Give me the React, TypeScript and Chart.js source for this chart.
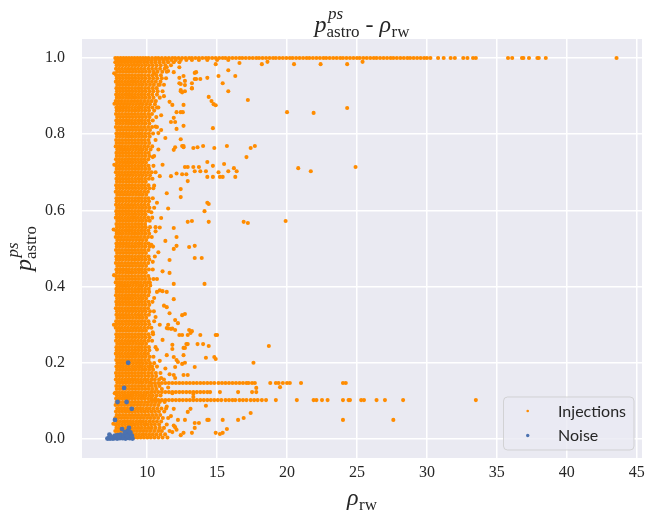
import { useEffect, useRef } from "react";
import { Chart, registerables } from "chart.js";
Chart.register(...registerables);

// ---------- axes ----------
const xTicks = [10, 15, 20, 25, 30, 35, 40, 45];
const yTicks = [0, 0.2, 0.4, 0.6, 0.8, 1.0];
const xRange = [5.34, 45.38];
const yRange = [-0.05, 1.05];

// ---------- Injections: row at p = 1.0 ----------
const topRowY = 1.0;
const topRowX = [7.72, 7.9, 8.1, 8.3, 8.5, 8.7, 8.9, 9.1, 9.3, 9.5, 9.7, 9.9, 10.1, 10.35, 10.6, 10.8, 11.05, 11.3, 11.55, 11.8, 12.0, 12.25, 12.5, 12.75, 13.0, 13.2, 13.45, 13.7, 13.95, 14.2, 14.4, 14.65, 14.9, 15.15, 15.4, 15.6, 15.85, 16.1, 16.35, 16.6, 16.8, 17.05, 17.3, 17.55, 17.8, 18.0, 18.25, 18.5, 18.75, 19.0, 19.2, 19.45, 19.7, 19.95, 20.2, 20.4, 20.65, 20.9, 21.15, 21.4, 21.6, 21.85, 22.1, 22.35, 22.6, 22.8, 23.05, 23.3, 23.55, 23.8, 24.0, 24.25, 24.5, 24.75, 25.0, 25.2, 25.45, 25.7, 25.95, 26.2, 26.4, 26.65, 26.9, 27.15, 27.4, 27.6, 27.85, 28.1, 28.35, 28.6, 28.8, 29.05, 29.3, 29.55, 29.8, 30.0, 30.25, 30.8, 31.2, 31.7, 32.0, 32.6, 32.9, 33.3, 33.5, 35.8, 36.1, 36.8, 36.9, 37.3, 37.9, 38.0, 38.5, 43.56];

// ---------- Injections: horizontal rows near 0.15 / 0.12 / 0.10 ----------
const rowY147 = 0.147;
const rowX147 = [10.3, 10.55, 10.8, 11.05, 11.3, 11.55, 11.8, 12.05, 12.3, 12.55, 12.8, 13.05, 13.3, 13.55, 13.8, 14.05, 14.3, 14.55, 14.8, 15.1, 15.35, 15.6, 15.85, 16.1, 16.35, 16.6, 16.85, 17.1, 17.25, 17.5, 17.7, 18.8, 19.2, 19.4, 19.7, 20.0, 20.2, 21.0, 24.0, 24.2];
const rowY123 = 0.123;
const rowX123 = [10.3, 10.55, 10.8, 11.05, 11.3, 11.55, 11.8, 12.05, 12.3, 12.55, 12.8, 13.05, 13.3, 13.55, 13.8, 14.05, 14.3, 14.5, 15.2, 16.5, 17.5, 17.8];
const rowY102 = 0.102;
const rowX102 = [10.3, 10.55, 10.8, 11.05, 11.3, 11.55, 11.8, 12.05, 12.3, 12.55, 12.8, 13.05, 13.3, 13.55, 13.8, 14.05, 14.3, 14.55, 14.8, 15.05, 15.3, 15.6, 15.85, 16.1, 16.3, 16.6, 16.85, 17.1, 17.4, 17.65, 17.9, 18.2, 18.5, 19.2, 20.7, 21.9, 22.1, 22.5, 22.9, 24.0, 24.4, 24.5, 25.3, 25.5, 26.4, 27.0, 28.3, 33.5];

// ---------- Injections: dense vertical band, rows of [p, rho, rho, ...] ----------
const bandRows: number[][] = [
  [0.004, 7.74, 7.96, 8.18, 8.41, 8.63, 8.86, 9.08, 9.31, 9.54, 9.77, 10.01, 10.26, 10.52, 10.8, 11.1, 11.45],
  [0.012, 7.83, 8.05, 8.28, 8.5, 8.73, 8.95, 9.19, 9.42, 9.66, 9.9, 10.14, 10.4, 10.66, 10.95, 11.28],
  [0.021, 7.72, 7.92, 8.14, 8.37, 8.59, 8.82, 9.04, 9.27, 9.5, 9.74, 9.98, 10.22, 10.5, 10.79, 11.05, 11.6],
  [0.029, 7.8, 8.02, 8.25, 8.47, 8.7, 8.92, 9.15, 9.38, 9.61, 9.85, 10.1, 10.33, 10.6, 10.9, 11.2],
  [0.038, 7.76, 7.97, 8.2, 8.42, 8.65, 8.88, 9.1, 9.33, 9.56, 9.8, 10.03, 10.28, 10.55, 10.85, 11.4],
  [0.046, 7.85, 8.07, 8.3, 8.52, 8.75, 8.97, 9.21, 9.44, 9.67, 9.91, 10.17, 10.42, 10.7, 11.0],
  [0.055, 7.73, 7.94, 8.16, 8.39, 8.61, 8.84, 9.06, 9.29, 9.52, 9.76, 10.0, 10.25, 10.5, 10.78, 11.12, 11.5],
  [0.063, 7.82, 8.04, 8.27, 8.49, 8.72, 8.94, 9.17, 9.4, 9.63, 9.87, 10.12, 10.38, 10.64, 10.93],
  [0.072, 7.77, 7.99, 8.21, 8.44, 8.66, 8.89, 9.11, 9.34, 9.57, 9.81, 10.05, 10.3, 10.56, 10.84, 11.22],
  [0.080, 7.86, 8.08, 8.31, 8.53, 8.76, 8.98, 9.22, 9.45, 9.68, 9.93, 10.18, 10.44, 10.72, 11.02, 11.35],
  [0.089, 7.74, 7.95, 8.17, 8.4, 8.62, 8.85, 9.07, 9.3, 9.53, 9.77, 10.01, 10.27, 10.53, 10.8],
  [0.097, 7.81, 8.03, 8.26, 8.48, 8.71, 8.93, 9.16, 9.39, 9.62, 9.86, 10.1, 10.35, 10.62, 10.9, 11.25],
  [0.106, 7.78, 8.0, 8.22, 8.45, 8.67, 8.9, 9.12, 9.35, 9.58, 9.82, 10.06, 10.31, 10.58],
  [0.114, 7.84, 8.06, 8.29, 8.51, 8.74, 8.96, 9.2, 9.43, 9.66, 9.9, 10.15, 10.4, 10.68, 10.96],
  [0.122, 7.75, 7.96, 8.19, 8.41, 8.64, 8.87, 9.09, 9.32, 9.55, 9.79, 10.03, 10.28],
  [0.131, 7.83, 8.05, 8.27, 8.5, 8.72, 8.95, 9.18, 9.41, 9.64, 9.88, 10.12, 10.38, 10.66, 11.05],
  [0.139, 7.79, 8.01, 8.23, 8.46, 8.68, 8.91, 9.13, 9.36, 9.59, 9.83, 10.08, 10.33, 10.6, 10.88],
  [0.148, 7.86, 8.08, 8.3, 8.53, 8.75, 8.98, 9.21, 9.44, 9.67, 9.92, 10.16],
  [0.156, 7.76, 7.98, 8.2, 8.43, 8.65, 8.88, 9.1, 9.33, 9.56, 9.8, 10.04, 10.3, 10.55, 10.85, 11.2],
  [0.165, 7.82, 8.04, 8.26, 8.49, 8.71, 8.94, 9.16, 9.39, 9.62, 9.86, 10.11, 10.36, 10.64],
  [0.173, 7.77, 7.99, 8.21, 8.44, 8.66, 8.89, 9.12, 9.35, 9.58, 9.82, 10.07, 10.33, 10.62, 10.95],
  [0.182, 7.85, 8.07, 8.29, 8.52, 8.74, 8.97, 9.19, 9.42, 9.65, 9.89, 10.14, 10.42],
  [0.190, 7.8, 8.02, 8.24, 8.47, 8.69, 8.92, 9.14, 9.37, 9.6, 9.84, 10.09, 10.35, 10.7],
  [0.199, 7.87, 8.09, 8.31, 8.54, 8.76, 8.99, 9.22, 9.45, 9.68, 9.93, 10.2, 10.5],
  [0.207, 7.79, 8.0, 8.22, 8.45, 8.67, 8.9, 9.13, 9.36, 9.59, 9.84, 10.1],
  [0.216, 7.84, 8.06, 8.28, 8.51, 8.73, 8.96, 9.19, 9.42, 9.65, 9.9, 10.18, 10.45],
  [0.224, 7.76, 7.97, 8.19, 8.42, 8.64, 8.87, 9.1, 9.33, 9.56, 9.8, 10.05],
  [0.233, 7.82, 8.04, 8.26, 8.49, 8.71, 8.94, 9.17, 9.4, 9.63, 9.88, 10.15],
  [0.241, 7.8, 8.01, 8.23, 8.46, 8.68, 8.91, 9.14, 9.37, 9.6, 9.85, 10.12, 10.6],
  [0.250, 7.86, 8.08, 8.3, 8.53, 8.75, 8.98, 9.21, 9.44, 9.67, 9.92],
  [0.258, 7.77, 7.98, 8.2, 8.43, 8.65, 8.88, 9.11, 9.34, 9.57, 9.82, 10.08, 10.35],
  [0.267, 7.83, 8.05, 8.27, 8.5, 8.72, 8.95, 9.18, 9.41, 9.64, 9.89, 10.16],
  [0.275, 7.79, 8.0, 8.22, 8.45, 8.67, 8.9, 9.13, 9.36, 9.59, 9.84, 10.1, 10.42],
  [0.284, 7.85, 8.07, 8.29, 8.52, 8.74, 8.97, 9.2, 9.43, 9.66, 9.91],
  [0.292, 7.75, 7.96, 8.18, 8.41, 8.63, 8.86, 9.09, 9.32, 9.55, 9.8, 10.06, 10.3],
  [0.301, 7.82, 8.04, 8.26, 8.49, 8.71, 8.94, 9.17, 9.4, 9.63, 9.87, 10.14],
  [0.309, 7.78, 7.99, 8.21, 8.44, 8.66, 8.89, 9.12, 9.35, 9.58, 9.83, 10.09, 10.5],
  [0.318, 7.86, 8.08, 8.3, 8.53, 8.75, 8.98, 9.21, 9.44, 9.67, 9.93],
  [0.326, 7.8, 8.01, 8.23, 8.46, 8.68, 8.91, 9.14, 9.37, 9.6, 9.85, 10.12],
  [0.335, 7.84, 8.06, 8.28, 8.51, 8.73, 8.96, 9.19, 9.42, 9.65, 9.9, 10.2, 10.48],
  [0.343, 7.76, 7.97, 8.19, 8.42, 8.64, 8.87, 9.1, 9.33, 9.56, 9.81, 10.06],
  [0.352, 7.83, 8.05, 8.27, 8.5, 8.72, 8.95, 9.18, 9.41, 9.64, 9.88, 10.15],
  [0.360, 7.79, 8.0, 8.22, 8.45, 8.67, 8.9, 9.13, 9.36, 9.59, 9.84, 10.1, 10.38],
  [0.369, 7.85, 8.07, 8.29, 8.52, 8.74, 8.97, 9.2, 9.43, 9.66, 9.92],
  [0.377, 7.77, 7.98, 8.2, 8.43, 8.65, 8.88, 9.11, 9.34, 9.57, 9.82, 10.08],
  [0.386, 7.82, 8.04, 8.26, 8.49, 8.71, 8.94, 9.17, 9.4, 9.63, 9.87, 10.14, 10.7],
  [0.394, 7.8, 8.01, 8.23, 8.46, 8.68, 8.91, 9.14, 9.37, 9.6, 9.85, 10.11],
  [0.403, 7.86, 8.08, 8.3, 8.53, 8.75, 8.98, 9.21, 9.44, 9.67, 9.93, 10.22],
  [0.411, 7.75, 7.96, 8.18, 8.41, 8.63, 8.86, 9.09, 9.32, 9.55, 9.8, 10.05],
  [0.420, 7.83, 8.05, 8.27, 8.5, 8.72, 8.95, 9.18, 9.41, 9.64, 9.89, 10.16, 10.45],
  [0.428, 7.78, 7.99, 8.21, 8.44, 8.66, 8.89, 9.12, 9.35, 9.58, 9.83, 10.08],
  [0.437, 7.84, 8.06, 8.28, 8.51, 8.73, 8.96, 9.19, 9.42, 9.65, 9.9],
  [0.445, 7.8, 8.01, 8.23, 8.46, 8.68, 8.91, 9.14, 9.37, 9.6, 9.85, 10.12, 10.4],
  [0.454, 7.86, 8.07, 8.29, 8.52, 8.74, 8.97, 9.2, 9.43, 9.66, 9.92],
  [0.462, 7.76, 7.97, 8.19, 8.42, 8.64, 8.87, 9.1, 9.33, 9.56, 9.81, 10.07],
  [0.471, 7.82, 8.04, 8.26, 8.49, 8.71, 8.94, 9.17, 9.4, 9.63, 9.88, 10.15],
  [0.479, 7.79, 8.0, 8.22, 8.45, 8.67, 8.9, 9.13, 9.36, 9.59, 9.84, 10.1, 10.55],
  [0.488, 7.85, 8.07, 8.29, 8.52, 8.74, 8.97, 9.2, 9.43, 9.66, 9.91],
  [0.496, 7.77, 7.98, 8.2, 8.43, 8.65, 8.88, 9.11, 9.34, 9.57, 9.82, 10.09],
  [0.505, 7.83, 8.05, 8.27, 8.5, 8.72, 8.95, 9.18, 9.41, 9.64, 9.89, 10.17, 10.42],
  [0.513, 7.8, 8.01, 8.23, 8.46, 8.68, 8.91, 9.14, 9.37, 9.6, 9.85, 10.1],
  [0.522, 7.86, 8.08, 8.3, 8.53, 8.75, 8.98, 9.21, 9.44, 9.67, 9.93],
  [0.530, 7.75, 7.96, 8.18, 8.41, 8.63, 8.86, 9.09, 9.32, 9.55, 9.8, 10.06, 10.33],
  [0.539, 7.82, 8.04, 8.26, 8.49, 8.71, 8.94, 9.17, 9.4, 9.63, 9.87, 10.14],
  [0.547, 7.78, 7.99, 8.21, 8.44, 8.66, 8.89, 9.12, 9.35, 9.58, 9.83, 10.08],
  [0.556, 7.84, 8.06, 8.28, 8.51, 8.73, 8.96, 9.19, 9.42, 9.65, 9.9, 10.2, 10.6],
  [0.564, 7.8, 8.01, 8.23, 8.46, 8.68, 8.91, 9.14, 9.37, 9.6, 9.85],
  [0.573, 7.86, 8.07, 8.29, 8.52, 8.74, 8.97, 9.2, 9.43, 9.66, 9.92, 10.18],
  [0.581, 7.76, 7.97, 8.19, 8.42, 8.64, 8.87, 9.1, 9.33, 9.56, 9.81, 10.07, 10.36],
  [0.590, 7.83, 8.05, 8.27, 8.5, 8.72, 8.95, 9.18, 9.41, 9.64, 9.88],
  [0.598, 7.79, 8.0, 8.22, 8.45, 8.67, 8.9, 9.13, 9.36, 9.59, 9.84, 10.11],
  [0.607, 7.85, 8.07, 8.29, 8.52, 8.74, 8.97, 9.2, 9.43, 9.66, 9.91, 10.16, 10.5],
  [0.615, 7.77, 7.98, 8.2, 8.43, 8.65, 8.88, 9.11, 9.34, 9.57, 9.82, 10.07],
  [0.624, 7.82, 8.04, 8.26, 8.49, 8.71, 8.94, 9.17, 9.4, 9.63, 9.87, 10.13],
  [0.632, 7.8, 8.01, 8.23, 8.46, 8.68, 8.91, 9.14, 9.37, 9.6, 9.85, 10.1, 10.4],
  [0.641, 7.86, 8.08, 8.3, 8.53, 8.75, 8.98, 9.21, 9.44, 9.67, 9.93],
  [0.649, 7.75, 7.96, 8.18, 8.41, 8.63, 8.86, 9.09, 9.32, 9.55, 9.8, 10.05],
  [0.658, 7.83, 8.05, 8.27, 8.5, 8.72, 8.95, 9.18, 9.41, 9.64, 9.89, 10.15, 10.44],
  [0.666, 7.78, 7.99, 8.21, 8.44, 8.66, 8.89, 9.12, 9.35, 9.58, 9.83, 10.09],
  [0.675, 7.84, 8.06, 8.28, 8.51, 8.73, 8.96, 9.19, 9.42, 9.65, 9.9],
  [0.683, 7.8, 8.01, 8.23, 8.46, 8.68, 8.91, 9.14, 9.37, 9.6, 9.85, 10.12, 10.38],
  [0.692, 7.86, 8.07, 8.29, 8.52, 8.74, 8.97, 9.2, 9.43, 9.66, 9.92, 10.2],
  [0.700, 7.76, 7.97, 8.19, 8.42, 8.64, 8.87, 9.1, 9.33, 9.56, 9.81, 10.06, 10.32, 10.6],
  [0.709, 7.82, 8.04, 8.26, 8.49, 8.71, 8.94, 9.17, 9.4, 9.63, 9.88, 10.14],
  [0.717, 7.79, 8.0, 8.22, 8.45, 8.67, 8.9, 9.13, 9.36, 9.59, 9.84, 10.1, 10.45],
  [0.726, 7.85, 8.07, 8.29, 8.52, 8.74, 8.97, 9.2, 9.43, 9.66, 9.91],
  [0.734, 7.77, 7.98, 8.2, 8.43, 8.65, 8.88, 9.11, 9.34, 9.57, 9.82, 10.08],
  [0.743, 7.83, 8.05, 8.27, 8.5, 8.72, 8.95, 9.18, 9.41, 9.64, 9.89, 10.16, 10.5],
  [0.751, 7.8, 8.01, 8.23, 8.46, 8.68, 8.91, 9.14, 9.37, 9.6, 9.85, 10.11],
  [0.760, 7.86, 8.08, 8.3, 8.53, 8.75, 8.98, 9.21, 9.44, 9.67, 9.93, 10.24],
  [0.768, 7.75, 7.96, 8.18, 8.41, 8.63, 8.86, 9.09, 9.32, 9.55, 9.8, 10.06, 10.36],
  [0.777, 7.82, 8.04, 8.26, 8.49, 8.71, 8.94, 9.17, 9.4, 9.63, 9.87, 10.14],
  [0.785, 7.78, 7.99, 8.21, 8.44, 8.66, 8.89, 9.12, 9.35, 9.58, 9.83, 10.09, 10.6],
  [0.794, 7.84, 8.06, 8.28, 8.51, 8.73, 8.96, 9.19, 9.42, 9.65, 9.9, 10.18],
  [0.802, 7.8, 8.01, 8.23, 8.46, 8.68, 8.91, 9.14, 9.37, 9.6, 9.85, 10.12, 10.42],
  [0.811, 7.86, 8.07, 8.29, 8.52, 8.74, 8.97, 9.2, 9.43, 9.66, 9.92, 10.2],
  [0.819, 7.76, 7.97, 8.19, 8.42, 8.64, 8.87, 9.1, 9.33, 9.56, 9.81, 10.07, 10.35, 10.7],
  [0.828, 7.83, 8.05, 8.27, 8.5, 8.72, 8.95, 9.18, 9.41, 9.64, 9.88, 10.15],
  [0.836, 7.79, 8.0, 8.22, 8.45, 8.67, 8.9, 9.13, 9.36, 9.59, 9.84, 10.1, 10.4],
  [0.845, 7.85, 8.07, 8.29, 8.52, 8.74, 8.97, 9.2, 9.43, 9.66, 9.91, 10.17, 10.65],
  [0.853, 7.77, 7.98, 8.2, 8.43, 8.65, 8.88, 9.11, 9.34, 9.57, 9.82, 10.08, 10.34],
  [0.862, 7.82, 8.04, 8.26, 8.49, 8.71, 8.94, 9.17, 9.4, 9.63, 9.87, 10.13, 10.5],
  [0.870, 7.8, 8.01, 8.23, 8.46, 8.68, 8.91, 9.14, 9.37, 9.6, 9.85, 10.11, 10.38, 10.8],
  [0.879, 7.86, 8.08, 8.3, 8.53, 8.75, 8.98, 9.21, 9.44, 9.67, 9.93, 10.2, 10.55],
  [0.887, 7.75, 7.96, 8.18, 8.41, 8.63, 8.86, 9.09, 9.32, 9.55, 9.8, 10.06, 10.33, 10.62],
  [0.896, 7.83, 8.05, 8.27, 8.5, 8.72, 8.95, 9.18, 9.41, 9.64, 9.89, 10.15, 10.45, 10.9],
  [0.904, 7.78, 7.99, 8.21, 8.44, 8.66, 8.89, 9.12, 9.35, 9.58, 9.83, 10.09, 10.36, 10.7],
  [0.913, 7.84, 8.06, 8.28, 8.51, 8.73, 8.96, 9.19, 9.42, 9.65, 9.9, 10.17, 10.44, 10.75, 11.1],
  [0.921, 7.8, 8.01, 8.23, 8.46, 8.68, 8.91, 9.14, 9.37, 9.6, 9.85, 10.11, 10.4, 10.68],
  [0.930, 7.86, 8.07, 8.29, 8.52, 8.74, 8.97, 9.2, 9.43, 9.66, 9.92, 10.2, 10.48, 10.8, 11.2],
  [0.938, 7.76, 7.97, 8.19, 8.42, 8.64, 8.87, 9.1, 9.33, 9.56, 9.81, 10.07, 10.34, 10.62, 10.95],
  [0.947, 7.83, 8.05, 8.27, 8.5, 8.72, 8.95, 9.18, 9.41, 9.64, 9.88, 10.15, 10.43, 10.72, 11.05, 11.35],
  [0.955, 7.79, 8.0, 8.22, 8.45, 8.67, 8.9, 9.13, 9.36, 9.59, 9.84, 10.1, 10.37, 10.66, 10.98],
  [0.964, 7.85, 8.07, 8.29, 8.52, 8.74, 8.97, 9.2, 9.43, 9.66, 9.91, 10.17, 10.45, 10.74, 11.08, 11.4],
  [0.972, 7.77, 7.98, 8.2, 8.43, 8.65, 8.88, 9.11, 9.34, 9.57, 9.82, 10.08, 10.35, 10.63, 10.92, 11.25],
  [0.981, 7.82, 8.04, 8.26, 8.49, 8.71, 8.94, 9.17, 9.4, 9.63, 9.87, 10.13, 10.4, 10.68, 10.97, 11.3, 11.7],
  [0.989, 7.72, 7.94, 8.16, 8.39, 8.61, 8.84, 9.07, 9.3, 9.53, 9.78, 10.03, 10.3, 10.58, 10.88, 11.18, 11.5, 11.9, 12.3],
  [0.995, 7.8, 8.0, 8.22, 8.45, 8.68, 8.9, 9.13, 9.36, 9.6, 9.84, 10.08, 10.34, 10.6, 10.86, 11.14, 11.42, 11.72, 12.05, 12.4, 12.8, 13.2, 13.7, 14.3, 15.0, 15.8],
];

// ---------- Injections: scattered points [rho, p] ----------
const injScatter: number[][] = [
  [16.6, 0.987], [18.2, 0.984], [18.6, 0.99], [20.5, 0.984], [22.4, 0.984], [24.3, 0.984], [25.4, 0.99], [14.9, 0.984],
  [15.8, 0.968], [16.3, 0.953], [15.1, 0.953], [15.4, 0.934], [15.8, 0.913], [17.2, 0.89], [14.4, 0.898], [14.6, 0.887],
  [14.75, 0.879], [14.9, 0.876], [20.0, 0.858], [21.9, 0.856], [24.3, 0.869], [14.7, 0.816], [12.6, 0.822], [12.0, 0.832],
  [13.4, 0.961], [13.8, 0.945], [13.5, 0.945], [14.3, 0.948], [12.6, 0.953], [12.7, 0.94], [13.2, 0.92], [12.3, 0.934],
  [12.4, 0.916], [12.5, 0.91], [12.6, 0.877], [12.4, 0.858], [12.55, 0.858], [12.4, 0.787], [12.5, 0.769], [12.6, 0.769],
  [13.3, 0.764], [13.6, 0.766], [14.0, 0.769], [14.8, 0.764], [15.7, 0.769], [17.4, 0.764], [17.7, 0.769], [17.1, 0.74],
  [14.3, 0.727], [14.7, 0.717], [15.5, 0.722], [16.2, 0.711], [15.8, 0.703], [16.4, 0.703], [20.8, 0.711], [21.7, 0.703],
  [24.9, 0.714], [12.7, 0.714], [12.9, 0.714], [13.3, 0.714], [13.7, 0.714], [14.3, 0.688], [14.7, 0.688], [15.2, 0.688],
  [15.4, 0.688], [16.3, 0.688], [15.1, 0.7], [14.2, 0.703], [13.8, 0.703], [13.4, 0.703], [12.8, 0.695], [12.5, 0.695],
  [12.1, 0.697], [11.7, 0.69], [12.9, 0.677], [12.4, 0.656], [12.4, 0.635], [14.3, 0.62], [14.4, 0.617], [14.1, 0.598],
  [14.4, 0.57], [13.2, 0.572], [12.9, 0.57], [16.9, 0.57], [17.2, 0.567], [19.9, 0.572], [12.1, 0.53], [11.9, 0.554],
  [13.0, 0.504], [13.4, 0.507], [13.4, 0.475], [13.9, 0.475], [12.1, 0.507], [11.9, 0.499], [14.1, 0.407], [11.6, 0.436],
  [11.9, 0.407], [11.9, 0.367], [11.4, 0.386], [11.1, 0.388], [11.4, 0.346], [11.6, 0.33], [12.7, 0.328], [12.5, 0.325],
  [12.0, 0.312], [12.2, 0.304], [11.4, 0.291], [11.7, 0.289], [12.0, 0.286], [13.2, 0.283], [12.9, 0.273], [12.3, 0.273],
  [12.5, 0.273], [13.8, 0.273], [14.9, 0.273], [12.8, 0.249], [12.9, 0.249], [12.6, 0.239], [12.7, 0.239], [13.6, 0.249],
  [14.0, 0.249], [14.4, 0.244], [11.8, 0.247], [11.8, 0.236], [12.6, 0.22], [14.2, 0.213], [14.8, 0.215], [14.9, 0.21],
  [11.9, 0.215], [12.1, 0.207], [12.7, 0.2], [12.5, 0.197], [12.2, 0.202], [13.4, 0.189], [12.0, 0.189], [11.9, 0.168],
  [12.6, 0.168], [12.9, 0.168], [12.0, 0.16], [17.8, 0.134], [19.5, 0.136], [13.3, 0.118], [13.3, 0.11], [13.1, 0.079],
  [12.9, 0.071], [14.2, 0.087], [11.9, 0.079], [12.2, 0.05], [12.7, 0.05], [13.4, 0.042], [13.7, 0.042], [14.3, 0.05],
  [14.4, 0.05], [15.4, 0.05], [12.6, 0.016], [13.2, 0.016], [13.4, 0.029], [14.9, 0.016], [15.2, 0.013], [15.4, 0.016],
  [15.7, 0.026], [11.8, 0.018], [12.1, 0.024], [12.0, 0.031], [16.5, 0.05], [16.9, 0.055], [17.4, 0.068], [18.7, 0.244],
  [17.6, 0.2], [15.0, 0.273], [24.0, 0.05], [27.6, 0.05], [13.1, 0.278], [13.0, 0.286], [11.8, 0.29], [11.5, 0.29],
  [12.6, 0.766], [12.0, 0.766], [11.9, 0.759], [13.5, 0.963], [13.4, 0.945], [13.2, 0.934], [13.2, 0.921], [12.3, 0.948],
  [12.7, 0.929], [12.4, 0.932], [12.4, 0.913], [12.7, 0.913], [12.1, 0.858], [11.9, 0.843], [11.7, 0.832], [11.6, 0.885],
  [11.8, 0.877], [12.1, 0.814], [11.0, 0.811], [10.8, 0.803], [12.3, 0.976], [11.4, 0.976], [11.5, 0.966], [11.9, 0.963],
  [10.5, 0.96], [10.9, 0.93], [11.2, 0.9], [10.7, 0.87], [11.0, 0.85], [10.6, 0.82], [11.3, 0.79], [10.8, 0.76],
  [10.4, 0.74], [11.1, 0.72], [10.9, 0.69], [10.5, 0.665], [11.4, 0.645], [10.7, 0.62], [10.3, 0.595], [11.0, 0.58],
  [10.6, 0.545], [11.3, 0.52], [10.8, 0.49], [10.4, 0.465], [11.1, 0.44], [10.7, 0.42], [10.9, 0.39], [10.5, 0.37],
  [11.2, 0.35], [10.6, 0.32], [10.9, 0.3], [10.4, 0.28], [11.1, 0.26], [10.7, 0.235], [11.4, 0.22], [10.9, 0.205],
  [11.3, 0.185], [11.6, 0.17], [11.0, 0.16], [11.5, 0.135], [11.8, 0.12], [11.4, 0.085], [11.7, 0.06], [11.9, 0.035],
  [12.4, 0.01], [10.9, 0.555], [11.5, 0.605], [10.3, 0.51], [11.6, 0.47], [10.2, 0.41], [11.5, 0.3], [10.3, 0.19],
  [7.62, 0.3], [7.65, 0.72], [7.6, 0.55], [7.68, 0.12], [7.58, 0.04], [7.66, 0.88], [7.63, 0.43], [7.64, 0.96],
];

// ---------- Noise [rho, p] ----------
const noisePts: number[][] = [
  [7.16, 0.001], [7.25, 0.002], [7.35, 0.001], [7.45, 0.003], [7.55, 0.001], [7.65, 0.002], [7.75, 0.004], [7.85, 0.001],
  [7.95, 0.003], [8.05, 0.002], [8.15, 0.005], [8.25, 0.002], [8.35, 0.004], [8.45, 0.001], [8.55, 0.003], [8.65, 0.006],
  [8.75, 0.002], [8.85, 0.004], [8.95, 0.001], [7.3, 0.011], [7.4, 0.007], [7.7, 0.009], [7.9, 0.01], [8.1, 0.011],
  [8.3, 0.009], [8.5, 0.012], [8.7, 0.011], [8.9, 0.009], [8.0, 0.006], [8.6, 0.008], [8.2, 0.026], [8.6, 0.021],
  [8.7, 0.029], [8.4, 0.018], [8.8, 0.017], [8.64, 0.2], [8.35, 0.134], [7.88, 0.097], [8.53, 0.097], [8.9, 0.079],
  [7.7, 0.05],
];

const seriesLabels = ["Injections", "Noise"];
const seriesColors = ["#FF8C00", "#4C72B0"];

function injectionPoints() {
  const pts: { x: number; y: number }[] = [];
  topRowX.forEach((x) => pts.push({ x, y: topRowY }));
  rowX147.forEach((x) => pts.push({ x, y: rowY147 }));
  rowX123.forEach((x) => pts.push({ x, y: rowY123 }));
  rowX102.forEach((x) => pts.push({ x, y: rowY102 }));
  bandRows.forEach((r) => r.slice(1).forEach((x) => pts.push({ x, y: r[0] })));
  injScatter.forEach(([x, y]) => pts.push({ x, y }));
  return pts;
}

const SERIF = '"Liberation Serif", "DejaVu Serif", serif';
const TXT = "#262626";

function measure(ctx: CanvasRenderingContext2D, font: string, t: string) {
  ctx.font = font;
  return ctx.measureText(t).width;
}

// draws p^{ps}_{astro}; returns width
function pAstro(ctx: CanvasRenderingContext2D, x: number, y: number, base: number, scr: number, draw: boolean) {
  const fB = `italic ${base}px ${SERIF}`;
  const fSI = `italic ${scr}px ${SERIF}`;
  const fSR = `${scr}px ${SERIF}`;
  const wp = measure(ctx, fB, "p");
  const wps = measure(ctx, fSI, "ps");
  const wa = measure(ctx, fSR, "astro");
  if (draw) {
    ctx.font = fB; ctx.fillText("p", x, y);
    ctx.font = fSI; ctx.fillText("ps", x + wp + 1.5, y - base * 0.55);
    ctx.font = fSR; ctx.fillText("astro", x + wp, y + base * 0.22);
  }
  return wp + Math.max(wps + 1.5, wa);
}

// draws rho_{rw}; returns width
function rhoRw(ctx: CanvasRenderingContext2D, x: number, y: number, base: number, scr: number, draw: boolean) {
  const fB = `italic ${base}px ${SERIF}`;
  const fSR = `${scr}px ${SERIF}`;
  const wr = measure(ctx, fB, "ρ");
  const ws = measure(ctx, fSR, "rw");
  if (draw) {
    ctx.font = fB; ctx.fillText("ρ", x, y);
    ctx.font = fSR; ctx.fillText("rw", x + wr + 0.5, y + base * 0.22);
  }
  return wr + 0.5 + ws;
}

const decorPlugin = {
  id: "decor",
  beforeDraw(chart: any) {
    const { ctx, chartArea: a } = chart;
    ctx.save();
    ctx.fillStyle = "#ffffff";
    ctx.fillRect(0, 0, chart.width, chart.height);
    ctx.fillStyle = "#EAEAF2";
    ctx.fillRect(a.left, a.top, a.right - a.left, a.bottom - a.top);
    ctx.restore();
  },
  afterDraw(chart: any) {
    const { ctx, chartArea: a } = chart;
    const cx = (a.left + a.right) / 2;
    ctx.save();
    ctx.fillStyle = TXT;
    ctx.textBaseline = "alphabetic";
    ctx.textAlign = "left";
    // title
    const B = 24, S = 17;
    const sep = " - ";
    const fSep = `${B}px ${SERIF}`;
    const w1 = pAstro(ctx, 0, 0, B, S, false);
    const wS = measure(ctx, fSep, sep);
    const w2 = rhoRw(ctx, 0, 0, B, S, false);
    let x = cx - (w1 + wS + w2) / 2;
    const ty = 32;
    pAstro(ctx, x, ty, B, S, true);
    x += w1;
    ctx.font = fSep; ctx.fillText(sep, x, ty);
    x += wS;
    rhoRw(ctx, x, ty, B, S, true);
    // x label
    const wx = rhoRw(ctx, 0, 0, B, S, false);
    rhoRw(ctx, cx - wx / 2, 505, B, S, true);
    // y label
    const cy = (a.top + a.bottom) / 2;
    ctx.save();
    ctx.translate(31, cy);
    ctx.rotate(-Math.PI / 2);
    const wy = pAstro(ctx, 0, 0, B, S, false);
    pAstro(ctx, -wy / 2, 0, B, S, true);
    ctx.restore();
    // legend
    const lx = 503.5, ly = 397, lw = 130.5, lh = 53;
    ctx.beginPath();
    ctx.roundRect(lx, ly, lw, lh, 4);
    ctx.fillStyle = "rgba(234,234,242,0.8)";
    ctx.fill();
    ctx.strokeStyle = "rgba(204,204,204,0.8)";
    ctx.lineWidth = 1;
    ctx.stroke();
    const rows = [411, 435.5];
    const radii = [1.3, 1.7];
    ctx.font = `16px Lato, "DejaVu Sans", sans-serif`;
    ctx.textBaseline = "middle";
    seriesLabels.forEach((lab, i) => {
      ctx.beginPath();
      ctx.arc(527.7, rows[i], radii[i], 0, Math.PI * 2);
      ctx.fillStyle = seriesColors[i];
      ctx.fill();
      ctx.fillStyle = TXT;
      ctx.fillText(lab, 558, rows[i] + 0.5);
    });
    ctx.restore();
  },
};

export default function App() {
  const ref = useRef<HTMLCanvasElement | null>(null);
  useEffect(() => {
    document.body.style.margin = "0";
    const canvas = ref.current;
    if (!canvas) return;
    const chart = new Chart(canvas, {
      type: "scatter",
      data: {
        datasets: [
          {
            label: seriesLabels[0],
            data: injectionPoints(),
            backgroundColor: seriesColors[0],
            borderWidth: 0,
            pointRadius: 2.05,
            pointHoverRadius: 2.05,
            order: 1,
          },
          {
            label: seriesLabels[1],
            data: noisePts.map(([x, y]) => ({ x, y })),
            backgroundColor: seriesColors[1],
            borderWidth: 0,
            pointRadius: 2.4,
            pointHoverRadius: 2.4,
            order: 0,
          },
        ],
      },
      options: {
        responsive: false,
        animation: false,
        events: [],
        layout: { padding: { left: 0, right: 17, top: 39, bottom: 0 } },
        plugins: { legend: { display: false }, title: { display: false }, tooltip: { enabled: false } },
        scales: {
          x: {
            type: "linear",
            min: xRange[0],
            max: xRange[1],
            afterBuildTicks: (s: any) => { s.ticks = xTicks.map((v) => ({ value: v })); },
            afterFit: (s: any) => { s.height = 61; },
            grid: { color: "#ffffff", lineWidth: 1.5, drawTicks: false },
            border: { display: false },
            ticks: {
              padding: 5,
              color: TXT,
              font: { family: SERIF, size: 16 },
              callback: (v: any) => String(v),
            },
          },
          y: {
            type: "linear",
            min: yRange[0],
            max: yRange[1],
            afterBuildTicks: (s: any) => { s.ticks = yTicks.map((v) => ({ value: v })); },
            afterFit: (s: any) => { s.width = 82; },
            grid: { color: "#ffffff", lineWidth: 1.5, drawTicks: false },
            border: { display: false },
            ticks: {
              padding: 17,
              color: TXT,
              font: { family: SERIF, size: 16 },
              callback: (v: any) => Number(v).toFixed(1),
            },
          },
        },
      },
      plugins: [decorPlugin],
    });
    return () => chart.destroy();
  }, []);
  return <canvas ref={ref} width={659} height={519} style={{ display: "block" }} />;
}
